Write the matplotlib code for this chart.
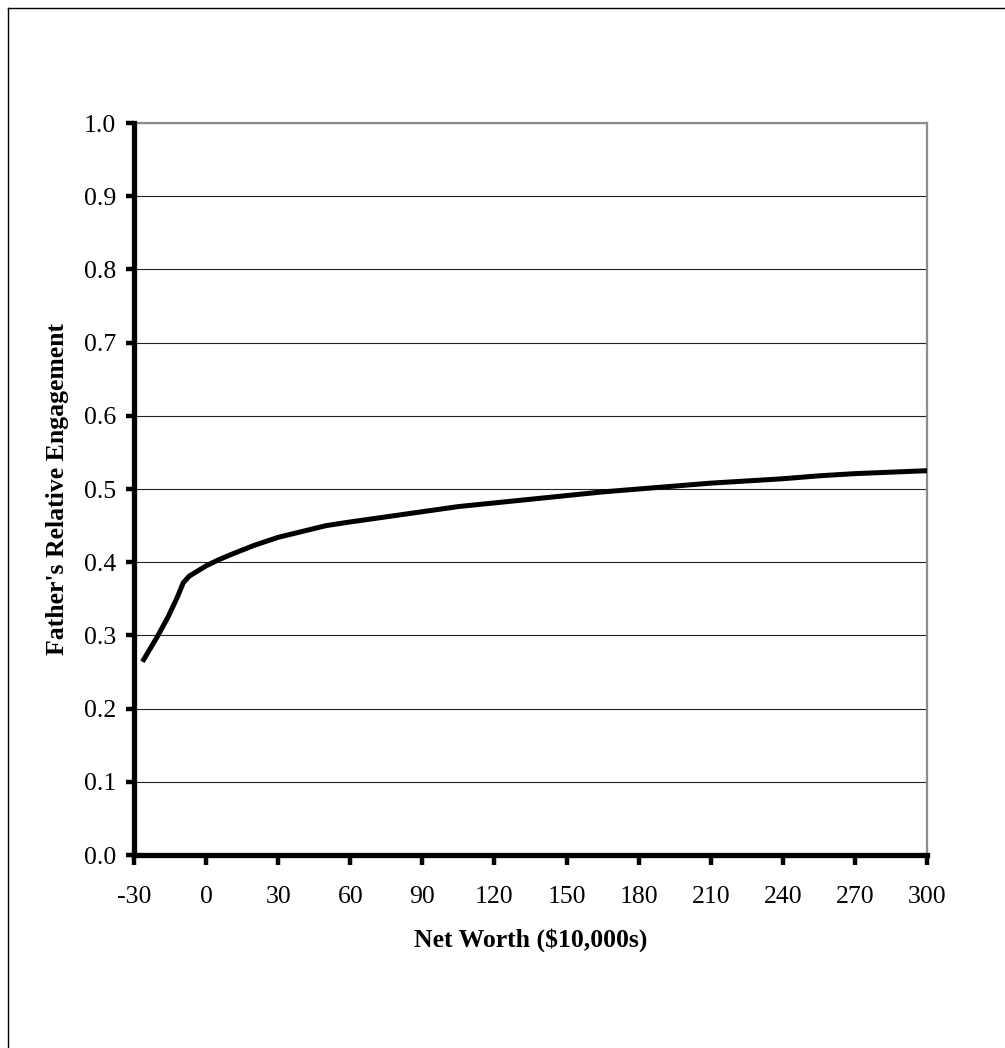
import matplotlib
matplotlib.use('Agg')
import matplotlib.pyplot as plt
from matplotlib.lines import Line2D

# net worth in $10,000s and the father's relative engagement at each point
net_worth = [-26.5, -20, -15.7, -12, -9.5, -7, -3, 0, 5, 10, 20, 30, 40, 50,
             60, 75, 90, 105, 120, 135, 150, 165, 180, 195, 210, 225, 240,
             255, 270, 285, 300]
engagement = [0.264, 0.300, 0.326, 0.352, 0.372, 0.381, 0.389, 0.395, 0.403,
              0.410, 0.423, 0.434, 0.442, 0.450, 0.455, 0.462, 0.469, 0.476,
              0.481, 0.486, 0.491, 0.496, 0.500, 0.504, 0.508, 0.511, 0.514,
              0.518, 0.521, 0.523, 0.525]

x_ticks = list(range(-30, 301, 30))
y_ticks = [i / 10 for i in range(11)]

plt.rcParams['font.family'] = ['Liberation Serif', 'DejaVu Serif']
plt.rcParams['axes.unicode_minus'] = False

fig = plt.figure(figsize=(10.05, 10.48), dpi=100)
ax = fig.add_axes([134 / 1005, 1 - 855 / 1048, 793 / 1005, 732 / 1048])

ax.plot(net_worth, engagement, color='black', lw=3.6,
        solid_capstyle='butt', solid_joinstyle='round', zorder=3)

ax.set_xlim(-30, 300)
ax.set_ylim(0, 1.0)
ax.set_xticks(x_ticks)
ax.set_xticklabels([str(v) for v in x_ticks])
ax.set_yticks(y_ticks)
ax.set_yticklabels([f'{v:.1f}' for v in y_ticks])

ax.grid(axis='y', color='#222222', lw=0.8)
ax.set_axisbelow(True)

for side in ('left', 'bottom'):
    ax.spines[side].set_linewidth(3.8)
    ax.spines[side].set_color('black')
    ax.spines[side].set_zorder(4)
for side in ('top', 'right'):
    ax.spines[side].set_linewidth(1.6)
    ax.spines[side].set_color('#8c8c8c')

ax.tick_params(axis='x', direction='out', length=7, width=3.2,
               labelsize=18.5, pad=15)
ax.tick_params(axis='y', direction='out', length=5.5, width=3.2,
               labelsize=18.5, pad=7.5)

ax.set_xlabel('Net Worth ($10,000s)', fontsize=18.5, fontweight='bold',
              va='center')
ax.xaxis.set_label_coords(0.5, -(940 - 855) / 732)
ax.set_ylabel("Father's Relative Engagement", fontsize=18.5,
              fontweight='bold', va='center')
ax.yaxis.set_label_coords(-(134 - 58) / 793, 0.5)

# chart area border (left and top edges)
fx, fy = 8 / 1005, 1 - 8 / 1048
fig.add_artist(Line2D([fx, fx], [0, fy], color='black', lw=1.0,
                      transform=fig.transFigure))
fig.add_artist(Line2D([fx, 1], [fy, fy], color='black', lw=1.0,
                      transform=fig.transFigure))

fig.savefig('out.png', dpi=100)
